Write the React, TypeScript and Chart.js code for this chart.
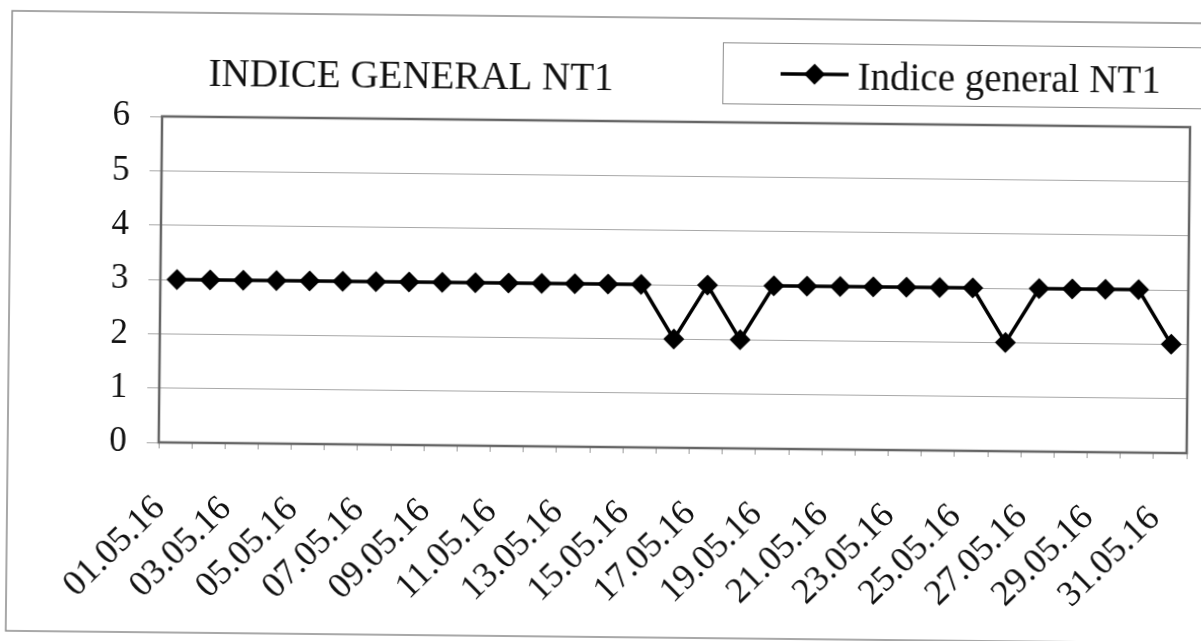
import React, { useEffect, useRef } from "react";
import { Chart, registerables } from "chart.js";

Chart.register(...registerables);

const chartTitle = "INDICE GENERAL NT1";
const seriesName = "Indice general NT1";

const dates = [
  "01.05.16", "02.05.16", "03.05.16", "04.05.16", "05.05.16", "06.05.16",
  "07.05.16", "08.05.16", "09.05.16", "10.05.16", "11.05.16", "12.05.16",
  "13.05.16", "14.05.16", "15.05.16", "16.05.16", "17.05.16", "18.05.16",
  "19.05.16", "20.05.16", "21.05.16", "22.05.16", "23.05.16", "24.05.16",
  "25.05.16", "26.05.16", "27.05.16", "28.05.16", "29.05.16", "30.05.16",
  "31.05.16",
];

const values = [
  3, 3, 3, 3, 3, 3, 3, 3, 3, 3, 3, 3, 3, 3, 3,
  2, 3, 2, 3, 3, 3, 3, 3, 3, 3, 2, 3, 3, 3, 3, 2,
];

const yMin = 0;
const yMax = 6;
const yStep = 1;

const FONT = "'Liberation Serif', 'Times New Roman', serif";

const decorPlugin = {
  id: "decor",
  beforeDraw(chart: any) {
    const ctx = chart.ctx as CanvasRenderingContext2D;
    ctx.save();
    // outer chart frame
    ctx.strokeStyle = "#8c8c8c";
    ctx.lineWidth = 1.5;
    ctx.strokeRect(9, 17, 1230, 620);

    // title
    ctx.fillStyle = "#111";
    ctx.font = `39px ${FONT}`;
    ctx.textAlign = "left";
    ctx.textBaseline = "alphabetic";
    ctx.fillText(chartTitle, 206, 90);

    // legend box
    ctx.strokeStyle = "#8c8c8c";
    ctx.lineWidth = 1;
    ctx.strokeRect(720.5, 41.5, 520, 61);

    // legend symbol
    const ly = 72;
    ctx.strokeStyle = "#000";
    ctx.lineWidth = 3.5;
    ctx.beginPath();
    ctx.moveTo(778, ly);
    ctx.lineTo(846, ly);
    ctx.stroke();
    const cx = 812;
    const r = 10.5;
    ctx.fillStyle = "#000";
    ctx.beginPath();
    ctx.moveTo(cx, ly - r);
    ctx.lineTo(cx + r, ly);
    ctx.lineTo(cx, ly + r);
    ctx.lineTo(cx - r, ly);
    ctx.closePath();
    ctx.fill();

    ctx.fillStyle = "#111";
    ctx.font = `39px ${FONT}`;
    ctx.textAlign = "left";
    ctx.fillText(seriesName, 855, 87);
    ctx.restore();
  },
  beforeDatasetsDraw(chart: any) {
    const ctx = chart.ctx as CanvasRenderingContext2D;
    const { left, top, right, bottom } = chart.chartArea;
    ctx.save();
    ctx.strokeStyle = "#666";
    ctx.lineWidth = 2.5;
    ctx.strokeRect(left, top, right - left, bottom - top);
    ctx.restore();
  },
};

export default function App() {
  const canvasRef = useRef<HTMLCanvasElement | null>(null);

  useEffect(() => {
    document.body.style.margin = "0";
    document.body.style.background = "#fff";
    const canvas = canvasRef.current;
    if (!canvas) return;
    Chart.defaults.font.family = FONT;
    const chart = new Chart(canvas, {
      type: "line",
      data: {
        labels: dates,
        datasets: [
          {
            label: seriesName,
            data: values,
            borderColor: "#000",
            backgroundColor: "#000",
            borderWidth: 3.5,
            pointStyle: "rectRot",
            pointRadius: 10.5,
            pointHoverRadius: 10.5,
            pointBackgroundColor: "#000",
            pointBorderColor: "#000",
            pointBorderWidth: 0,
            tension: 0,
          },
        ],
      },
      options: {
        animation: false,
        responsive: false,
        maintainAspectRatio: false,
        devicePixelRatio: 1,
        layout: { padding: { left: 0, right: 13, top: 121, bottom: 0 } },
        plugins: {
          legend: { display: false },
          title: { display: false },
          tooltip: { enabled: false },
        },
        scales: {
          x: {
            type: "category",
            offset: true,
            border: { display: false },
            grid: {
              offset: true,
              drawOnChartArea: false,
              drawTicks: true,
              tickLength: 6,
              color: "#9a9a9a",
              lineWidth: 1,
            },
            ticks: {
              autoSkip: false,
              maxRotation: 45,
              minRotation: 45,
              padding: 39,
              labelOffset: -15,
              color: "#111",
              font: { size: 36, family: FONT },
              callback: (_v: any, i: number) => (i % 2 === 0 ? dates[i] : ""),
            },
            afterFit: (scale: any) => {
              scale.height = 194;
              scale.paddingLeft = 0;
              scale.paddingRight = 0;
            },
          },
          y: {
            min: yMin,
            max: yMax,
            border: { display: false },
            grid: {
              color: "#a8a8a8",
              lineWidth: 1,
              tickLength: 12,
              drawTicks: true,
            },
            ticks: {
              stepSize: yStep,
              padding: 20,
              color: "#111",
              font: { size: 35, family: FONT },
            },
            afterFit: (scale: any) => {
              scale.width = 160;
            },
          },
        },
      },
      plugins: [decorPlugin],
    });
    return () => chart.destroy();
  }, []);

  return (
    <div
      style={{
        position: "fixed",
        left: 0,
        top: 0,
        width: 1201,
        height: 641,
        transform: "rotate(0.6deg)",
        transformOrigin: "50% 50%",
      }}
    >
      <canvas ref={canvasRef} width={1201} height={641} style={{ width: 1201, height: 641 }} />
    </div>
  );
}
